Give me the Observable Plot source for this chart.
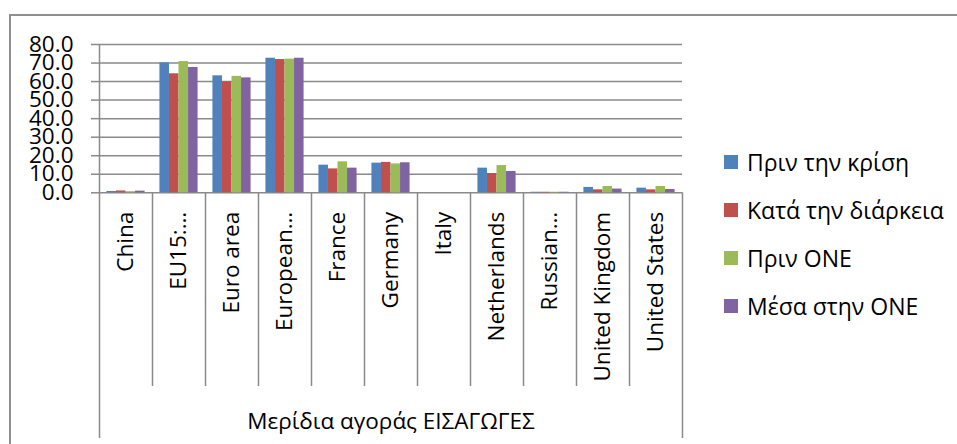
<!DOCTYPE html>
<html><head><meta charset="utf-8">
<script src="https://cdn.jsdelivr.net/npm/d3@7"></script>
<script src="https://cdn.jsdelivr.net/npm/@observablehq/plot@0.6"></script>
<style>
body{margin:0;background:#fff;}
#wrap{position:relative;width:957px;height:444px;overflow:hidden;font-family:"Open Sans",sans-serif;}
#border{position:absolute;left:9px;top:14px;width:1000px;height:500px;border:2px solid #8f8f8f;box-sizing:border-box;pointer-events:none;}
#legend{position:absolute;left:724px;top:138px;}
.item{display:flex;align-items:center;height:48px;font-size:23px;color:#000;white-space:nowrap;}
.sw{width:14px;height:14px;margin-right:9px;flex:none;}
</style></head>
<body><div id="wrap"><div id="chart"></div><div id="legend"></div><div id="border"></div></div>
<script>
const categories = ["China","EU15:…","Euro area","European…","France","Germany","Italy","Netherlands","Russian…","United Kingdom","United States"];
const seriesNames = ["Πριν την κρίση","Κατά την διάρκεια","Πριν ΟΝΕ","Μέσα στην ΟΝΕ"];
const beforeCrisis = [0.7,70.1,63.1,72.6,14.9,16.0,0,13.3,0.3,2.9,2.5];
const duringCrisis = [1.0,64.2,59.9,71.9,12.9,16.4,0,10.4,0.3,1.6,1.6];
const beforeEMU   = [0.6,70.8,62.8,72.1,16.7,15.6,0,14.7,0.3,3.4,3.4];
const inEMU       = [0.9,67.6,62.0,72.6,13.3,16.2,0,11.5,0.3,2.0,1.8];
const yTicks = [0,10,20,30,40,50,60,70,80];
const colors = ["#4F81BD","#C0504D","#9BBB59","#8064A2"];
const groupLabel = "Μερίδια αγοράς ΕΙΣΑΓΩΓΕΣ";

const seriesValues = [beforeCrisis, duringCrisis, beforeEMU, inEMU];
const W = 957, H = 444, mL = 99, mR = 275, mT = 44, mB = 251.7;
const step = (W - mL - mR) / categories.length;
const pad = step * 0.14, bw = (step - 2 * pad) / 4;
const plotH = H - mT - mB;
const sepBottom = 386, outerBottom = 438;
const y0 = H - mB;
const gridColor = "#8a8a8a";
const font = {fontFamily: "Open Sans", fontSize: 22.5, fill: "#000"};

const barMarks = seriesValues.map((vals, i) =>
  Plot.barY(categories.map((c, j) => ({c, v: vals[j], s: seriesNames[i]})), {
    x: "c", y: "v", fill: colors[i],
    insetLeft: pad + i * bw, insetRight: pad + (3 - i) * bw
  })
);

const chart = Plot.plot({
  width: W, height: H,
  marginLeft: mL, marginRight: mR, marginTop: mT, marginBottom: mB,
  style: {fontFamily: "Open Sans", background: "transparent"},
  x: {type: "band", domain: categories, padding: 0, axis: null},
  y: {domain: [0, 80], axis: null},
  marks: [
    Plot.gridY(yTicks, {stroke: gridColor, strokeOpacity: 1, strokeWidth: 1.5}),
    Plot.axisY(yTicks, {tickSize: 8, tickPadding: 18, tickFormat: d => d.toFixed(1), stroke: gridColor, strokeWidth: 1.5, label: null, fontSize: 22.5, fill: "#000"}),
    Plot.ruleX([categories[0]], {x: d => d, dx: -step / 2, insetBottom: -(outerBottom - y0), stroke: gridColor, strokeWidth: 1.5}),
    Plot.ruleX(categories.slice(1), {x: d => d, dx: -step / 2, insetTop: plotH, insetBottom: -(sepBottom - y0), stroke: gridColor, strokeWidth: 1.5}),
    Plot.ruleX([categories[categories.length - 1]], {x: d => d, dx: step / 2, insetTop: plotH, insetBottom: -(outerBottom - y0), stroke: gridColor, strokeWidth: 1.5}),
    ...barMarks,
    Plot.text(categories, {x: d => d, text: d => d, frameAnchor: "bottom", rotate: -90, textAnchor: "end", lineAnchor: "middle", dy: 19, ...font}),
    Plot.text([groupLabel], {text: d => d, frameAnchor: "bottom", dy: 229, lineAnchor: "middle", ...font})
  ]
});
document.getElementById("chart").append(chart);

const legend = document.getElementById("legend");
seriesNames.forEach((name, i) => {
  const item = document.createElement("div");
  item.className = "item";
  const sw = document.createElement("span");
  sw.className = "sw";
  sw.style.background = colors[i];
  const t = document.createElement("span");
  t.textContent = name;
  item.append(sw, t);
  legend.append(item);
});
</script>
</body></html>
